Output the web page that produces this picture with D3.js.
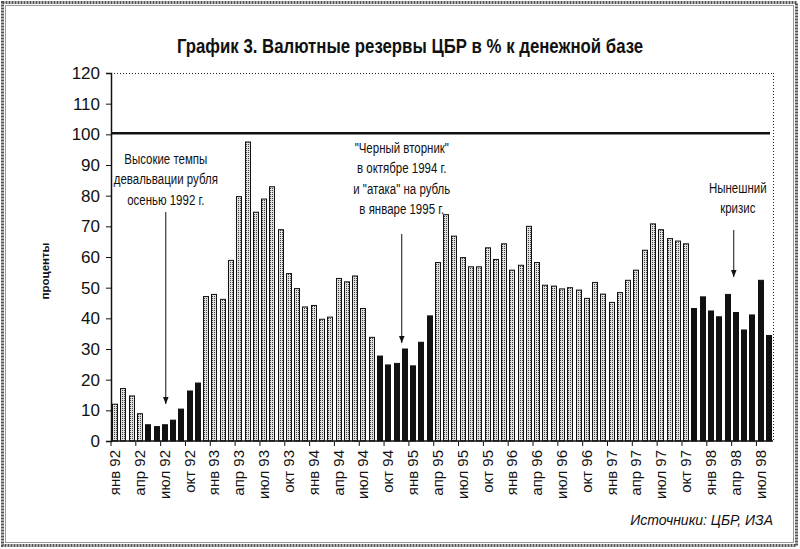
<!DOCTYPE html>
<html>
<head>
<meta charset="utf-8">
<script src="https://cdn.jsdelivr.net/npm/d3@7"></script>
<style>
  body { margin: 0; background: #fff; }
  svg { display: block; }
  text { font-family: "Liberation Sans", Arial, sans-serif; fill: #111; }
</style>
</head>
<body>
<svg id="chart" width="800" height="549"></svg>
<script>
// month names and years for the category axis
const monthNames = ["янв","фев","мар","апр","май","июн","июл","авг","сен","окт","ноя","дек"];
const years = ["92","93","94","95","96","97","98"];

// reserves as % of money base, Jan 1992 .. Aug 1998
const reserves = [
  12.0, 17.1, 14.7, 8.9, 5.3, 4.7, 5.3, 6.8, 10.4, 16.3, 18.9, 47.1,
  47.8, 46.2, 58.9, 79.7, 97.5, 74.6, 78.9, 82.9, 68.9, 54.6, 49.7, 43.7,
  44.2, 39.7, 40.4, 53.0, 51.9, 53.8, 43.2, 33.8, 27.7, 24.8, 25.3, 30.0,
  24.5, 32.2, 40.8, 58.2, 73.8, 66.8, 59.8, 56.8, 56.8, 63.0, 59.2, 64.3,
  55.7, 57.3, 70.0, 58.2, 50.8, 50.5, 49.6, 50.0, 49.2, 46.5, 51.7, 47.9,
  45.2, 48.4, 52.4, 55.7, 62.2, 70.8, 68.9, 66.0, 65.2, 64.3, 43.2, 47.0,
  42.4, 40.5, 47.8, 41.9, 36.2, 41.1, 52.4, 34.4
];

// crisis periods drawn as black bars (first, last month)
const crisisPeriods = [["май 92", "ноя 92"], ["сен 94", "мар 95"], ["ноя 97", "авг 98"]];

const yTicks = [0, 10, 20, 30, 40, 50, 60, 70, 80, 90, 100, 110, 120];
const refLevel = 100;

const notes = [
  { lines: ["Высокие темпы", "девальвации рубля", "осенью 1992 г."], month: "июл 92", dx: 1, ty: 164, from: 212, to: 404 },
  { lines: ["\"Черный вторник\"", "в октябре 1994 г.", "и \"атака\" на рубль", "в январе 1995 г."], month: "дек 94", dx: -3, ty: 153, from: 234, to: 343 },
  { lines: ["Нынешний", "кризис"], month: "апр 98", dx: -2, ty: 193, from: 230, to: 277, textDx: 4 }
];

const categories = [];
years.forEach(y => monthNames.forEach(m => categories.push(m + " " + y)));
categories.splice(reserves.length);
const data = reserves.map((v, i) => ({ cat: categories[i], value: v }));

const isCrisis = (cat) => {
  const i = categories.indexOf(cat);
  return crisisPeriods.some(p => i >= categories.indexOf(p[0]) && i <= categories.indexOf(p[1]));
};

const svg = d3.select("#chart");
const plotL = 111, plotR = 773, plotT = 73, plotB = 441;
const narrow = 0.82; // horizontal squeeze to mimic a condensed face

// frame
svg.append("rect").attr("x", 2.5).attr("y", 2.5).attr("width", 794).attr("height", 543)
  .attr("fill", "none").attr("stroke", "#555").attr("stroke-width", 3).attr("stroke-dasharray", "2,1");
svg.append("rect").attr("x", 5.5).attr("y", 5.5).attr("width", 788).attr("height", 537)
  .attr("fill", "none").attr("stroke", "#999").attr("stroke-width", 1);

// stipple pattern for normal bars
const defs = svg.append("defs");
const pat = defs.append("pattern").attr("id", "stipple").attr("patternUnits", "userSpaceOnUse")
  .attr("width", 2).attr("height", 2);
pat.append("rect").attr("width", 2).attr("height", 2).attr("fill", "#e0e0e0");
pat.append("rect").attr("width", 1).attr("height", 1).attr("fill", "#444");

const x = d3.scaleBand().domain(categories).range([plotL, plotR]).paddingInner(0.28).paddingOuter(0.14);
const y = d3.scaleLinear().domain([0, 120]).range([plotB, plotT]);

// plot border: dotted top & right
svg.append("line").attr("x1", plotL).attr("x2", plotR).attr("y1", plotT + 0.5).attr("y2", plotT + 0.5)
  .attr("stroke", "#222").attr("stroke-dasharray", "1,2");
svg.append("line").attr("x1", plotR + 0.5).attr("x2", plotR + 0.5).attr("y1", plotT).attr("y2", plotB)
  .attr("stroke", "#222").attr("stroke-dasharray", "1,2");

// bars
svg.append("g").selectAll("rect").data(data).join("rect")
  .attr("x", d => Math.round(x(d.cat)) + 0.5)
  .attr("y", d => y(d.value))
  .attr("width", Math.round(x.bandwidth()) - 1)
  .attr("height", d => plotB - y(d.value))
  .attr("fill", d => isCrisis(d.cat) ? "#111" : "url(#stipple)")
  .attr("stroke", "#111").attr("stroke-width", 1);

// 100% line
svg.append("line").attr("x1", plotL).attr("x2", plotR - 3).attr("y1", y(refLevel) - 1).attr("y2", y(refLevel) - 1)
  .attr("stroke", "#111").attr("stroke-width", 2.5);

// y axis
const yAxis = svg.append("g").attr("transform", `translate(${plotL},0)`)
  .call(d3.axisLeft(y).tickValues(yTicks).tickSize(5).tickPadding(6));
yAxis.select(".domain").attr("stroke", "#111").attr("stroke-width", 1.5);
yAxis.selectAll("line").attr("stroke", "#111");
yAxis.selectAll("text").style("font-size", "17px").attr("fill", "#111");

// x axis: ticks at band boundaries every 3 months, labels at band centres
const labelCats = categories.filter((c, i) => i % 3 === 0);
const xAxis = svg.append("g").attr("transform", `translate(0,${plotB})`);
xAxis.append("line").attr("x1", plotL).attr("x2", plotR).attr("stroke", "#111").attr("stroke-width", 1.5);
xAxis.selectAll(".tk").data(labelCats).join("line").attr("class", "tk")
  .attr("x1", d => x(d) - x.step() * x.paddingInner() / 2)
  .attr("x2", d => x(d) - x.step() * x.paddingInner() / 2)
  .attr("y1", 0).attr("y2", 5).attr("stroke", "#111");
xAxis.selectAll("text").data(labelCats).join("text")
  .attr("transform", d => `translate(${x(d) + x.bandwidth() / 2 + 5},9) rotate(-90)`)
  .attr("text-anchor", "end")
  .style("font-size", "15px")
  .text(d => d);

// y axis title
svg.append("text").attr("transform", "translate(49,271) rotate(-90)")
  .attr("text-anchor", "middle").style("font-size", "11.5px").style("font-weight", "bold")
  .text("проценты");

// title
svg.append("text").attr("transform", "translate(410,53) scale(0.84,1)").attr("text-anchor", "middle")
  .style("font-size", "20px").style("font-weight", "bold")
  .text("График 3. Валютные резервы ЦБР в % к денежной базе");

// annotations with arrows
defs.append("marker").attr("id", "arrow").attr("viewBox", "0 0 10 10").attr("refX", 10).attr("refY", 5)
  .attr("markerWidth", 7).attr("markerHeight", 7).attr("markerUnits", "userSpaceOnUse").attr("orient", "auto")
  .append("path").attr("d", "M0,1 L10,5 L0,9 Z").attr("fill", "#111");

notes.forEach(n => {
  const cx = x(n.month) + x.bandwidth() / 2 + n.dx;
  const t = svg.append("text").attr("text-anchor", "middle").style("font-size", "14px")
    .attr("transform", `translate(${cx + (n.textDx || 0)},0) scale(${narrow},1)`);
  n.lines.forEach((l, i) => t.append("tspan").attr("x", 0).attr("y", n.ty + i * 20.5).text(l));
  svg.append("line").attr("x1", cx).attr("x2", cx).attr("y1", n.from).attr("y2", n.to)
    .attr("stroke", "#111").attr("stroke-width", 1).attr("marker-end", "url(#arrow)");
});

// source
svg.append("text").attr("x", 773).attr("y", 525).attr("text-anchor", "end")
  .style("font-size", "14px").style("font-style", "italic")
  .text("Источники: ЦБР, ИЗА");
</script>
</body>
</html>
